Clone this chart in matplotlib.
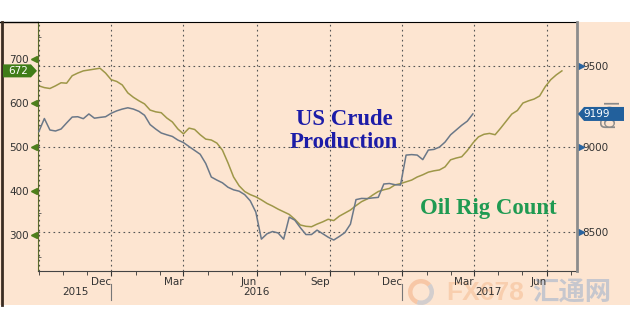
import numpy as np
import pandas as pd
import matplotlib
matplotlib.use("Agg")
import matplotlib.pyplot as plt
import matplotlib.dates as mdates
from matplotlib.patches import Polygon, Rectangle, Wedge
from matplotlib.lines import Line2D
from matplotlib.ticker import NullLocator
from matplotlib.transforms import IdentityTransform

# ---------------------------
# data (weekly)
# ---------------------------
start_date = "2015-09-01"

# oil rig count, left axis
rig_count = [638, 634, 632, 638, 645, 644, 661, 667, 672, 674, 676, 678, 667, 652, 648, 640,
             622, 612, 604, 597, 583, 579, 577, 565, 556, 540, 529, 542, 539, 527, 517, 515,
             508, 492, 463, 431, 411, 398, 391, 386, 379, 371, 365, 358, 352, 346, 335, 322,
             319, 318, 324, 329, 335, 332, 342, 349, 356, 366, 375, 381, 390, 398, 402, 405,
             413, 416, 420, 424, 431, 436, 442, 445, 447, 454, 470, 474, 477, 491, 508, 522,
             528, 530, 527, 542, 558, 574, 582, 599, 604, 608, 615, 636, 652, 663, 672]

# US crude production, right (log) axis
production = [9091, 9171, 9101, 9095, 9107, 9144, 9180, 9182, 9170, 9199, 9173, 9178, 9182, 9203, 9218, 9229,
              9237, 9229, 9215, 9191, 9134, 9107, 9083, 9072, 9062, 9040, 9025, 9001, 8978, 8955, 8900, 8820,
              8802, 8786, 8760, 8745, 8737, 8717, 8681, 8616, 8462, 8492, 8505, 8497, 8462, 8587, 8570, 8527,
              8488, 8488, 8513, 8493, 8473, 8457, 8477, 8499, 8547, 8688, 8695, 8694, 8698, 8701, 8779, 8782,
              8775, 8773, 8950, 8953, 8950, 8923, 8980, 8984, 8998, 9028, 9072, 9101, 9130, 9155, 9199]

left_ticks = [300, 400, 500, 600, 700]
left_minor = [250, 350, 450, 550, 650, 750]
right_ticks = [8500, 9000, 9500]
month_ticks = ["2015-12-01", "2016-03-01", "2016-06-01", "2016-09-01",
               "2016-12-01", "2017-03-01", "2017-06-01"]
month_labels = ["Dec", "Mar", "Jun", "Sep", "Dec", "Mar", "Jun"]
year_labels = ["2015", "2016", "2017"]
year_pos = ["2015-10-17", "2016-06-01", "2017-03-19"]
year_breaks = ["2015-12-01", "2016-12-01"]

rig_dates = pd.date_range(start_date, periods=len(rig_count), freq="7D")
prod_dates = pd.date_range(start_date, periods=len(production), freq="7D")

PEACH = "#fde5d1"
OLIVE = "#9e9748"
GREY = "#6b7888"
TXT = "#333333"

W, H = 630, 330
fig = plt.figure(figsize=(W / 100, H / 100), dpi=100)
fig.patch.set_facecolor("white")

# peach panel + frame
fig.add_artist(Rectangle((0, 1 - 305 / H), 1, (305 - 22) / H, transform=fig.transFigure,
                         fc=PEACH, ec="none", zorder=-2))
fig.add_artist(Line2D([0, 38 / W], [1 - 22 / H] * 2, transform=fig.transFigure, color="black", lw=1))
fig.add_artist(Line2D([0.0025, 0.0025], [1 - 305 / H, 1 - 22 / H], transform=fig.transFigure,
                      color="#3a2c22", lw=2))

ax = fig.add_axes([38 / W, 1 - 271 / H, (577 - 38) / W, (271 - 22) / H])
ax.set_facecolor("none")
ax2 = ax.twinx()

ax.plot(rig_dates, rig_count, color=OLIVE, lw=1.1)
ax2.plot(prod_dates, production, color=GREY, lw=1.1)

ax.set_xlim(pd.Timestamp("2015-08-31"), pd.Timestamp("2017-07-09"))
ax.set_ylim(217.5, 783)
ax2.set_yscale("log")
ax2.set_ylim(8284, 9781)

# spines
ax.spines["top"].set_color("black")
ax.spines["left"].set_color("#5b6b2a")
ax.spines["bottom"].set_color("#444444")
ax.spines["right"].set_visible(False)
for s in ["top", "left", "bottom"]:
    ax2.spines[s].set_visible(False)
ax2.spines["right"].set_color("#8c8c8c")
ax2.spines["right"].set_linewidth(2)

# x axis
ax.set_xticks(pd.to_datetime(month_ticks))
ax.set_xticklabels(month_labels, ha="right")
ax.xaxis.set_minor_locator(mdates.MonthLocator())
ax.tick_params(axis="x", which="both", direction="out", color=TXT, labelsize=7.5,
               labelcolor=TXT, pad=0.5)
ax.tick_params(axis="x", which="major", length=3.5)
ax.tick_params(axis="x", which="minor", length=3)
grid_style = dict(color="#555555", ls=(0, (1.5, 3)), lw=0.8)
ax.grid(axis="x", which="major", **grid_style)
ax.axvline(pd.Timestamp(start_date), **grid_style)

xt = ax.get_xaxis_transform()
for lab, d in zip(year_labels, year_pos):
    ax.text(pd.Timestamp(d), -0.086, lab, transform=xt, ha="center", va="center",
            fontsize=7.5, color=TXT, clip_on=False)
for d in year_breaks:
    ax.plot([pd.Timestamp(d)] * 2, [-0.052, -0.116], transform=xt, color="#777777",
            lw=0.8, clip_on=False)

# left axis
ax.set_yticks(left_ticks)
ax.set_yticks(left_minor, minor=True)
ax.tick_params(axis="y", which="major", length=0, pad=6.5, labelsize=7.5, labelcolor=TXT)
ax.tick_params(axis="y", which="minor", length=2.5, direction="in", color="#555555")
ax.plot(np.full(len(left_ticks), -0.007), left_ticks, ls="none", marker="<", ms=4.5,
        color="#4d7f1c", transform=ax.get_yaxis_transform(), clip_on=False)

# right axis
ax2.set_yticks(right_ticks)
ax2.set_yticklabels([str(t) for t in right_ticks])
ax2.yaxis.set_minor_locator(NullLocator())
ax2.tick_params(axis="y", which="major", length=0, pad=4, labelsize=7.5, labelcolor=TXT)
ax2.grid(axis="y", which="major", **grid_style)
ax2.plot(np.full(len(right_ticks), 1.007), right_ticks, ls="none", marker=">", ms=4.5,
         color="#2a64a0", transform=ax2.get_yaxis_transform(), clip_on=False)

# labels on the chart
ax.text(0.568, 0.562, "US Crude\nProduction", transform=ax.transAxes, ha="center", va="center",
        fontsize=16.4, fontweight="bold", family="Liberation Serif", color="#1c1ca8",
        linespacing=1.15)
ax.text(0.835, 0.253, "Oil Rig Count", transform=ax.transAxes, ha="center", va="center",
        fontsize=16.4, fontweight="bold", family="Liberation Serif", color="#1f9a52")

# last-value tags
to_fig = fig.transFigure.inverted()
yl = ax.get_yaxis_transform().transform((0, rig_count[-1]))[1]
pts = [(3, yl - 6.5), (31, yl - 6.5), (37, yl), (31, yl + 6.5), (3, yl + 6.5)]
fig.add_artist(Polygon(to_fig.transform(pts), closed=True, fc="#3f7d18", ec="none",
                       transform=fig.transFigure, zorder=3))
fig.text(18 / W, yl / H, f"{rig_count[-1]}", ha="center", va="center", color="white",
         fontsize=7.5, zorder=4)

fig.text(607 / W, 1 - 116 / H, "log", rotation=270, ha="center", va="center", fontsize=14,
         color="#8a8a8a", zorder=2)
yr = ax2.get_yaxis_transform().transform((1, production[-1]))[1]
pts = [(578, yr), (584, yr - 7), (624, yr - 7), (624, yr + 7), (584, yr + 7)]
fig.add_artist(Polygon(to_fig.transform(pts), closed=True, fc="#22609c", ec="none",
                       transform=fig.transFigure, zorder=3))
fig.text(583 / W, yr / H, f"{production[-1]}", ha="left", va="center", color="white",
         fontsize=7.5, zorder=4)

# watermark
fig.add_artist(Wedge((421, H - 292), 13, 40, 250, width=4.5, fc="#f3b38a", ec="none",
                     alpha=0.6, transform=IdentityTransform(), zorder=-1))
fig.add_artist(Wedge((421, H - 292), 13, 250, 400, width=4.5, fc="#b7bfcc", ec="none",
                     alpha=0.6, transform=IdentityTransform(), zorder=-1))
fig.text(446 / W, 1 - 293 / H, "FX678", fontsize=19, fontweight="bold", family="Liberation Sans",
         color="#f6c39c", alpha=0.65, ha="left", va="center", zorder=-1)
fig.text(572 / W, 1 - 293 / H, "汇通网", fontsize=19, fontweight="bold",
         family=["Noto Sans CJK SC", "DejaVu Sans"], color="#a9b7cd", alpha=0.65,
         ha="center", va="center", zorder=-1)

fig.savefig("out.png", dpi=100)
